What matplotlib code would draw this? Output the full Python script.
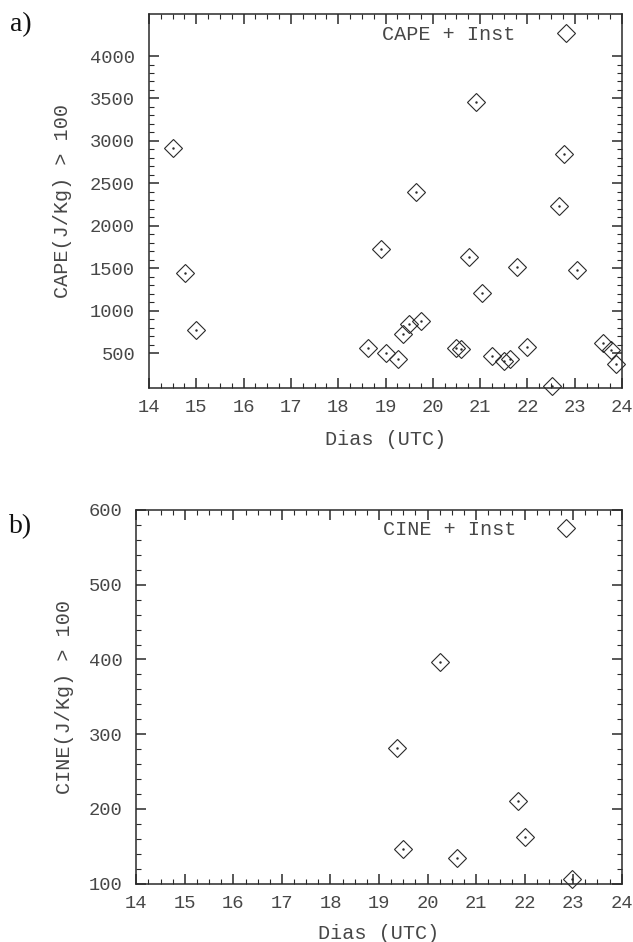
import numpy as np
import matplotlib
matplotlib.use("Agg")
import matplotlib.pyplot as plt
from matplotlib.ticker import FixedLocator, MultipleLocator
from matplotlib.lines import Line2D

# CAPE observations (day of month, J/Kg)
cape_days = [14.51, 14.76, 15.00, 18.62, 18.90, 19.00, 19.26, 19.38, 19.50,
             19.65, 19.75, 20.50, 20.60, 20.76, 20.91, 21.04, 21.25, 21.50,
             21.64, 21.79, 22.00, 22.51, 22.66, 22.77, 23.05, 23.60, 23.76,
             23.87]
cape_vals = [2913, 1442, 774, 566, 1724, 500, 437, 725, 850,
             2399, 886, 562, 545, 1634, 3462, 1214, 468, 413,
             430, 1516, 580, 110, 2234, 2850, 1477, 625, 540,
             372]

# CINE observations (day of month, J/Kg)
cine_days = [19.38, 19.50, 20.25, 20.61, 21.86, 22.00, 22.98]
cine_vals = [281, 146, 396, 135, 211, 162, 106]

day_ticks = list(range(14, 25))
cape_ticks = list(range(500, 4001, 500))
cine_ticks = list(range(100, 601, 100))

MONO = "Liberation Mono"
INK = "#2a2a2a"
TXT = "#474747"

fig = plt.figure(figsize=(6.33, 9.42), dpi=100)
W, H = 633.0, 942.0


def px_axes(left, top, right, bottom):
    return fig.add_axes([left / W, 1 - bottom / H, (right - left) / W,
                         (bottom - top) / H])


def style_axes(ax, yticks, yminor, ylim):
    ax.set_xlim(14, 24)
    ax.set_ylim(*ylim)
    ax.xaxis.set_major_locator(FixedLocator(day_ticks))
    ax.xaxis.set_minor_locator(MultipleLocator(0.25))
    ax.yaxis.set_major_locator(FixedLocator(yticks))
    ax.yaxis.set_minor_locator(FixedLocator(yminor))
    ax.tick_params(which="both", direction="in", top=True, right=True,
                   colors=INK)
    ax.tick_params(which="major", length=7, width=1.1)
    ax.tick_params(which="minor", length=3.6, width=0.8)
    ax.tick_params(axis="x", which="major", pad=8, labelsize=13.5)
    ax.tick_params(axis="y", which="major", pad=10, labelsize=13.5)
    for lab in ax.get_xticklabels() + ax.get_yticklabels():
        lab.set_family(MONO)
        lab.set_color(TXT)
    for sp in ax.spines.values():
        sp.set_linewidth(1.1)
        sp.set_color(INK)


def draw_points(ax, xs, ys):
    ax.plot(xs, ys, linestyle="none", marker="D", markersize=9,
            markerfacecolor="none", markeredgecolor=INK,
            markeredgewidth=0.8, clip_on=False)
    ax.plot(xs, ys, linestyle="none", marker=".", markersize=1.5,
            color=INK, clip_on=False)


def add_key(ax, text, anchor):
    handle = Line2D([], [], linestyle="none", marker="D", markersize=9,
                    markerfacecolor="none", markeredgecolor=INK,
                    markeredgewidth=0.8)
    leg = ax.legend([handle], [text], loc="center right",
                    bbox_to_anchor=anchor, frameon=False, markerfirst=False,
                    handlelength=1.0, handletextpad=2.0, borderpad=0,
                    borderaxespad=0, prop={"family": MONO, "size": 14.5})
    for t in leg.get_texts():
        t.set_color(TXT)


# ---- a) CAPE ----
ax1 = px_axes(149, 14.3, 622, 388.3)
style_axes(ax1, cape_ticks, [v for v in range(600, 4000, 100) if v % 500],
           (88, 4491))
draw_points(ax1, cape_days, cape_vals)
add_key(ax1, "CAPE + Inst", (0.903, 0.946))
ax1.set_ylabel("CAPE(J/Kg) > 100", family=MONO, fontsize=14.5,
               color=TXT, va="center")
ax1.yaxis.set_label_coords(-0.1825, 0.5)
ax1.set_xlabel("Dias (UTC)", family=MONO, fontsize=14.5, color=TXT,
               va="center")
ax1.xaxis.set_label_coords(0.5, -0.1364)

# ---- b) CINE ----
ax2 = px_axes(136.3, 510, 621.7, 883.7)
style_axes(ax2, cine_ticks, [v for v in range(100, 600, 20) if v % 100],
           (100, 600))
draw_points(ax2, cine_days, cine_vals)
add_key(ax2, "CINE + Inst", (0.9065, 0.949))
ax2.set_ylabel("CINE(J/Kg) > 100", family=MONO, fontsize=14.5,
               color=TXT, va="center")
ax2.yaxis.set_label_coords(-0.148, 0.5)
ax2.set_xlabel("Dias (UTC)", family=MONO, fontsize=14.5, color=TXT,
               va="center")
ax2.xaxis.set_label_coords(0.5, -0.132)

# panel letters
fig.text(10 / W, 1 - 25 / H, "a)", family="Liberation Serif", fontsize=20,
         ha="left", va="center", color="#111111")
fig.text(9 / W, 1 - 527 / H, "b)", family="Liberation Serif", fontsize=20,
         ha="left", va="center", color="#111111")

fig.savefig("out.png", dpi=100, facecolor="white")
